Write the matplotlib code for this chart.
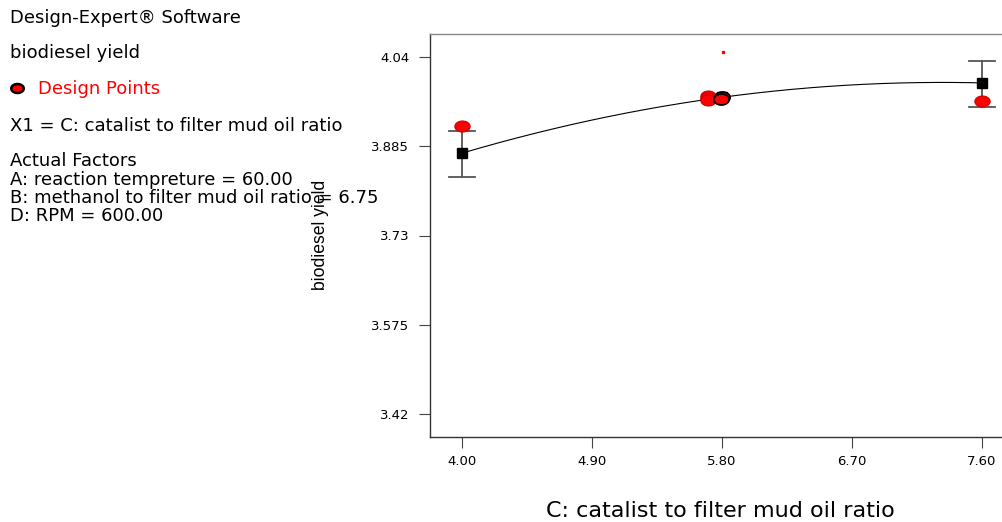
import numpy as np
import matplotlib
matplotlib.use("Agg")
import matplotlib.pyplot as plt
from matplotlib.path import Path

plt.rcParams['font.family'] = ['DejaVu Sans']

# Model predictions (black squares) with error bars
pred_x = [4.00, 5.80, 7.60]
pred_y = [3.873, 3.970, 3.995]
err_lo = [3.832, None, 3.953]
err_hi = [3.911, None, 4.033]

# Design points (red)
design_x = [4.00, 5.70, 5.70, 5.70, 5.80, 5.79, 7.60]
design_y = [3.920, 3.973, 3.969, 3.965, 3.970, 3.967, 3.964]
outlier_x = [5.81]
outlier_y = [4.049]

xticks = [4.00, 4.90, 5.80, 6.70, 7.60]
xtick_labels = ["4.00", "4.90", "5.80", "6.70", "7.60"]
yticks = [3.42, 3.575, 3.73, 3.885, 4.04]
ytick_labels = ["3.42", "3.575", "3.73", "3.885", "4.04"]

W, H = 1003, 522
fig = plt.figure(figsize=(W / 100, H / 100), dpi=100)
ax_left, ax_right, ax_top, ax_bot = 430, 1015, 34, 437
ax = fig.add_axes([ax_left / W, 1 - ax_bot / H, (ax_right - ax_left) / W, (ax_bot - ax_top) / H])

px_per_x = 130 / 0.9
px_per_y = 357 / 0.62
ax.set_xlim(4.00 - (462 - ax_left) / px_per_x, 4.00 + (ax_right - 462) / px_per_x)
ax.set_ylim(3.42 - (ax_bot - 414) / px_per_y, 4.04 + (57 - ax_top) / px_per_y)

# elliptical marker
t = np.linspace(0, 2 * np.pi, 40)
ell = Path(np.column_stack([np.cos(t), 0.72 * np.sin(t)]), closed=True)

# fitted curve through model predictions (quadratic model)
coef = np.polyfit(pred_x, pred_y, 2)
xs = np.linspace(min(pred_x), max(pred_x), 200)
ax.plot(xs, np.polyval(coef, xs), color='black', lw=0.8, zorder=2)

# error bars
for x, lo, hi in zip(pred_x, err_lo, err_hi):
    if lo is None:
        continue
    ax.plot([x, x], [lo, hi], color='#555555', lw=1.3, zorder=2)
    for yy in (lo, hi):
        ax.plot([x - 0.087, x + 0.087], [yy, yy], color='#555555', lw=1.3, zorder=2)

# predicted squares
ax.plot(pred_x, pred_y, linestyle='none', marker='s', markersize=7,
        markerfacecolor='black', markeredgecolor='black', zorder=4)

# design points
ax.plot(design_x, design_y, linestyle='none', marker=ell, markersize=11,
        markerfacecolor='red', markeredgecolor='#cc0000', markeredgewidth=0.8, zorder=5)
ax.plot(design_x[4:6], design_y[4:6], linestyle='none', marker=ell, markersize=11,
        markerfacecolor='red', markeredgecolor='black', markeredgewidth=1.2, zorder=6)
ax.plot(outlier_x, outlier_y, linestyle='none', marker='s', markersize=1.5,
        markerfacecolor='red', markeredgecolor='red', zorder=3)

ax.set_xticks(xticks)
ax.set_xticklabels(xtick_labels)
ax.set_yticks(yticks)
ax.set_yticklabels(ytick_labels)
ax.tick_params(axis='both', direction='out', length=8, width=0.8, color='#444444',
               labelsize=9.5)
ax.tick_params(axis='y', pad=7)
ax.tick_params(axis='x', pad=5)
for s in ax.spines.values():
    s.set_linewidth(1.0)
ax.spines['top'].set_color('#888888')
ax.spines['left'].set_color('#333333')
ax.spines['bottom'].set_color('#333333')

# axis labels
fig.text(321 / W, 1 - 235 / H, "biodiesel yield", rotation=90, ha='center', va='center',
         fontsize=12.7, family=['Liberation Sans'])
fig.text(720 / W, 1 - 511 / H, "C: catalist to filter mud oil ratio", ha='center', va='center',
         fontsize=16)

# left annotation panel
fs = 13
fig.text(10 / W, 1 - 18 / H, "Design-Expert® Software", fontsize=fs, va='center')
fig.text(10 / W, 1 - 53 / H, "biodiesel yield", fontsize=fs, va='center')
fig.lines.append(plt.Line2D([17 / W], [1 - 88 / H], transform=fig.transFigure, marker=ell,
                            markersize=9, markerfacecolor='red', markeredgecolor='black',
                            markeredgewidth=1.8, linestyle='none'))
fig.text(38 / W, 1 - 89 / H, "Design Points", fontsize=fs, color='red', va='center')
fig.text(10 / W, 1 - 126 / H, "X1 = C: catalist to filter mud oil ratio", fontsize=fs, va='center')
fig.text(10 / W, 1 - 161 / H, "Actual Factors", fontsize=fs, va='center')
fig.text(10 / W, 1 - 180 / H, "A: reaction tempreture = 60.00", fontsize=fs, va='center')
fig.text(10 / W, 1 - 198 / H, "B: methanol to filter mud oil ratio = 6.75", fontsize=fs, va='center')
fig.text(10 / W, 1 - 216 / H, "D: RPM = 600.00", fontsize=fs, va='center')

fig.savefig("out.png", dpi=100)
